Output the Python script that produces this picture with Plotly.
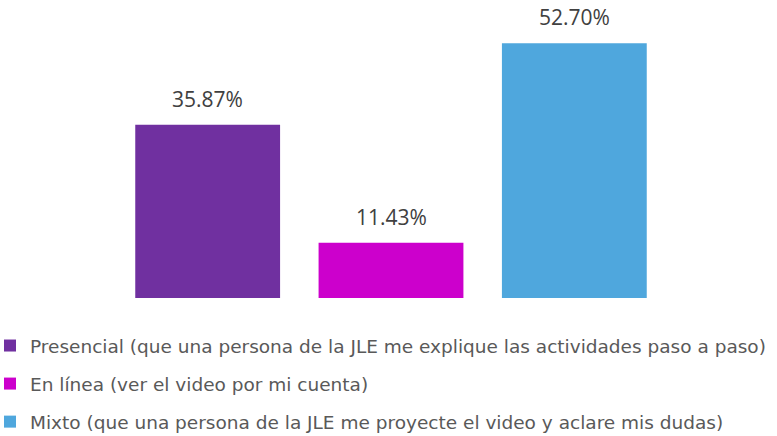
import plotly.graph_objects as go

categories = [
    "Presencial (que una persona de la JLE me explique las actividades paso a paso)",
    "En línea (ver el video por mi cuenta)",
    "Mixto (que una persona de la JLE me proyecte el video y aclare mis dudas)",
]
values = [35.87, 11.43, 52.70]
labels = ["35.87%", "11.43%", "52.70%"]
colors = ["#7030A0", "#CC00CC", "#4FA7DD"]

fig = go.Figure()
for i, (cat, val, col) in enumerate(zip(categories, values, colors)):
    fig.add_trace(go.Bar(
        x=[i], y=[val], name=cat, marker_color=col, marker_line_width=0,
        legendgroup=f"g{i}", hoverinfo="skip",
    ))
    fig.add_annotation(
        x=i, y=val, text=labels[i], showarrow=False, yanchor="bottom", yshift=10,
        font=dict(family="Open Sans", size=21, color="#404040"),
    )

fig.update_layout(
    width=777, height=436,
    margin=dict(l=116, r=111, t=8, b=138, autoexpand=False),
    plot_bgcolor="white", paper_bgcolor="white",
    bargap=0.21,
    showlegend=True,
    legend=dict(
        orientation="v",
        x=-0.2291, xanchor="left", y=-0.1, yanchor="top",
        font=dict(family="DejaVu Sans", size=18.5, color="#595959"),
        tracegroupgap=11, traceorder="grouped",
    ),
    xaxis=dict(visible=False, range=[-0.5, 2.5]),
    yaxis=dict(visible=False, range=[0, 60]),
)

# remove the page's default body margin so the figure fills the window
fig.write_html(
    "out.html",
    config={"displayModeBar": False},
    post_script="document.body.style.margin='0px';document.body.style.overflow='hidden';",
)
